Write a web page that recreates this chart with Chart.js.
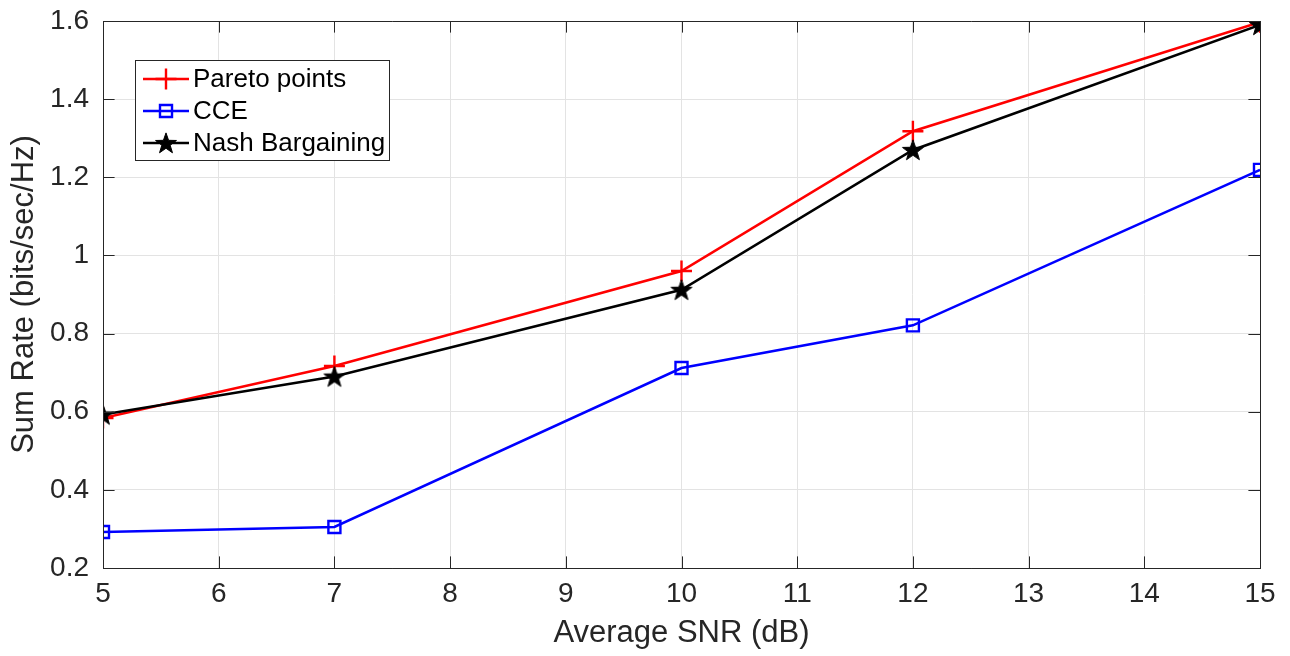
<!DOCTYPE html>
<html>
<head>
<meta charset="utf-8">
<script src="https://cdn.jsdelivr.net/npm/chart.js@4/dist/chart.umd.min.js"></script>
<style>
html,body{margin:0;padding:0;background:#fff;}
#wrap{width:1290px;height:656px;}
</style>
</head>
<body>
<div id="wrap"><canvas id="c" width="1290" height="656"></canvas></div>
<script>
// ---- data ----
const snr = [5, 7, 10, 12, 15];
const paretoPoints = [0.584, 0.717, 0.960, 1.318, 1.597];
const cce = [0.292, 0.305, 0.712, 0.821, 1.219];
const nashBargaining = [0.593, 0.690, 0.912, 1.270, 1.590];
const seriesNames = ['Pareto points', 'CCE', 'Nash Bargaining'];
const xTicks = [5, 6, 7, 8, 9, 10, 11, 12, 13, 14, 15];
const yTicks = [0.2, 0.4, 0.6, 0.8, 1, 1.2, 1.4, 1.6];
const xTitle = 'Average SNR (dB)';
const yTitle = 'Sum Rate (bits/sec/Hz)';

const FONT = "'Liberation Sans', Arial, Helvetica, sans-serif";
const TXT = '#262626';

function makeStar(r, color) {
  const c = document.createElement('canvas');
  const s = Math.ceil(r * 2 + 4);
  c.width = s; c.height = s;
  const g = c.getContext('2d');
  const cx = s / 2, cy = s / 2 + r * 0.08;
  const ri = r * 0.4;
  g.beginPath();
  for (let i = 0; i < 10; i++) {
    const rad = i % 2 === 0 ? r : ri;
    const a = -Math.PI / 2 + i * Math.PI / 5;
    const px = cx + rad * Math.cos(a), py = cy + rad * Math.sin(a);
    if (i === 0) g.moveTo(px, py); else g.lineTo(px, py);
  }
  g.closePath();
  g.fillStyle = color;
  g.fill();
  g.lineWidth = 1;
  g.strokeStyle = color;
  g.stroke();
  return c;
}
const starImg = makeStar(11, '#000000');

const toXY = (xs, ys) => xs.map((x, i) => ({x: x, y: ys[i]}));

const frameAndTicks = {
  id: 'frameAndTicks',
  afterDatasetsDraw(chart) {
    const {ctx, chartArea: a, scales: {x, y}} = chart;
    const L = 11.6;
    ctx.save();
    ctx.strokeStyle = TXT;
    ctx.lineWidth = 1;
    ctx.beginPath();
    yTicks.forEach(v => {
      const py = Math.round(y.getPixelForValue(v)) + 0.5;
      ctx.moveTo(a.left, py); ctx.lineTo(a.left + L, py);
      ctx.moveTo(a.right, py); ctx.lineTo(a.right - L, py);
    });
    xTicks.forEach(v => {
      const px = Math.round(x.getPixelForValue(v)) + 0.5;
      ctx.moveTo(px, a.bottom); ctx.lineTo(px, a.bottom - L);
      ctx.moveTo(px, a.top); ctx.lineTo(px, a.top + L);
    });
    ctx.stroke();
    ctx.beginPath();
    ctx.rect(Math.round(a.left) + 0.5, Math.round(a.top) + 0.5, Math.round(a.right - a.left), Math.round(a.bottom - a.top));
    ctx.stroke();
    ctx.restore();
  },
  afterDraw(chart) {
    // legend inside the axes (top-left)
    const {ctx, chartArea: a} = chart;
    const bx = a.left + 32, by = a.top + 39, bw = 254, bh = 100;
    ctx.save();
    ctx.fillStyle = '#fff';
    ctx.fillRect(bx, by, bw, bh);
    ctx.strokeStyle = TXT;
    ctx.lineWidth = 1;
    ctx.strokeRect(Math.round(bx) + 0.5, Math.round(by) + 0.5, bw, bh);
    ctx.font = '26px ' + FONT;
    ctx.textBaseline = 'middle';
    chart.data.datasets.forEach((ds, i) => {
      const cy = by + 19 + i * 32;
      const x0 = bx + 8, x1 = bx + 54;
      ctx.strokeStyle = ds.borderColor;
      ctx.lineWidth = ds.borderWidth;
      ctx.beginPath(); ctx.moveTo(x0, cy); ctx.lineTo(x1, cy); ctx.stroke();
      const mx = (x0 + x1) / 2;
      if (ds.pointStyle instanceof HTMLCanvasElement) {
        const im = ds.pointStyle;
        ctx.drawImage(im, mx - im.width / 2, cy - im.height / 2);
      } else {
        ctx.strokeStyle = ds.pointBorderColor;
        ctx.fillStyle = ds.pointBackgroundColor;
        ctx.lineWidth = ds.pointBorderWidth;
        Chart.helpers.drawPoint(ctx, {
          pointStyle: ds.pointStyle, radius: ds.pointRadius, rotation: 0,
          borderWidth: ds.pointBorderWidth
        }, mx, cy);
      }
      ctx.fillStyle = '#000';
      ctx.fillText(ds.label, bx + 58, cy + 1);
    });
    ctx.restore();
  }
};

new Chart(document.getElementById('c'), {
  type: 'line',
  data: {
    datasets: [
      {
        label: seriesNames[0], data: toXY(snr, paretoPoints),
        borderColor: '#ff0000', borderWidth: 2.6, backgroundColor: '#ff0000',
        pointStyle: 'cross', pointRadius: 10.5, pointBorderWidth: 2.4,
        pointBorderColor: '#ff0000', pointBackgroundColor: '#ff0000', order: 3
      },
      {
        label: seriesNames[1], data: toXY(snr, cce),
        borderColor: '#0000ff', borderWidth: 2.6, backgroundColor: 'rgba(0,0,0,0)',
        pointStyle: 'rect', pointRadius: 8.5, pointBorderWidth: 2.4,
        pointBorderColor: '#0000ff', pointBackgroundColor: 'rgba(0,0,0,0)', order: 2
      },
      {
        label: seriesNames[2], data: toXY(snr, nashBargaining),
        borderColor: '#000000', borderWidth: 2.6, backgroundColor: '#000',
        pointStyle: starImg, pointRadius: 10, pointBorderWidth: 1,
        pointBorderColor: '#000', pointBackgroundColor: '#000', order: 1
      }
    ]
  },
  options: {
    responsive: false,
    animation: false,
    devicePixelRatio: 1,
    layout: {padding: {top: 21, right: 30, left: 0, bottom: 0}},
    plugins: {legend: {display: false}, tooltip: {enabled: false}},
    elements: {line: {tension: 0}},
    scales: {
      x: {
        type: 'linear', min: 5, max: 15,
        afterBuildTicks: s => { s.ticks = xTicks.map(v => ({value: v})); },
        afterFit: s => { s.height = 88; s.paddingLeft = 0; s.paddingRight = 0; },
        grid: {color: '#e3e3e3', lineWidth: 1, drawTicks: false},
        border: {display: true, color: TXT, width: 1},
        ticks: {color: TXT, font: {size: 28, family: FONT}, padding: 9, maxRotation: 0, autoSkip: false},
        title: {display: true, text: xTitle, color: TXT, font: {size: 31, family: FONT}, padding: {top: 0, bottom: 4}}
      },
      y: {
        type: 'linear', min: 0.2, max: 1.6,
        afterBuildTicks: s => { s.ticks = yTicks.map(v => ({value: v})); },
        afterFit: s => { s.width = 103; s.paddingTop = 0; s.paddingBottom = 0; },
        grid: {color: '#e3e3e3', lineWidth: 1, drawTicks: false},
        border: {display: true, color: TXT, width: 1},
        ticks: {color: TXT, font: {size: 28, family: FONT}, padding: 14, autoSkip: false,
          callback: v => String(Math.round(v * 10) / 10)},
        title: {display: true, text: yTitle, color: TXT, font: {size: 31, family: FONT}, padding: {top: 6, bottom: 0}}
      }
    }
  },
  plugins: [frameAndTicks]
});
</script>
</body>
</html>
